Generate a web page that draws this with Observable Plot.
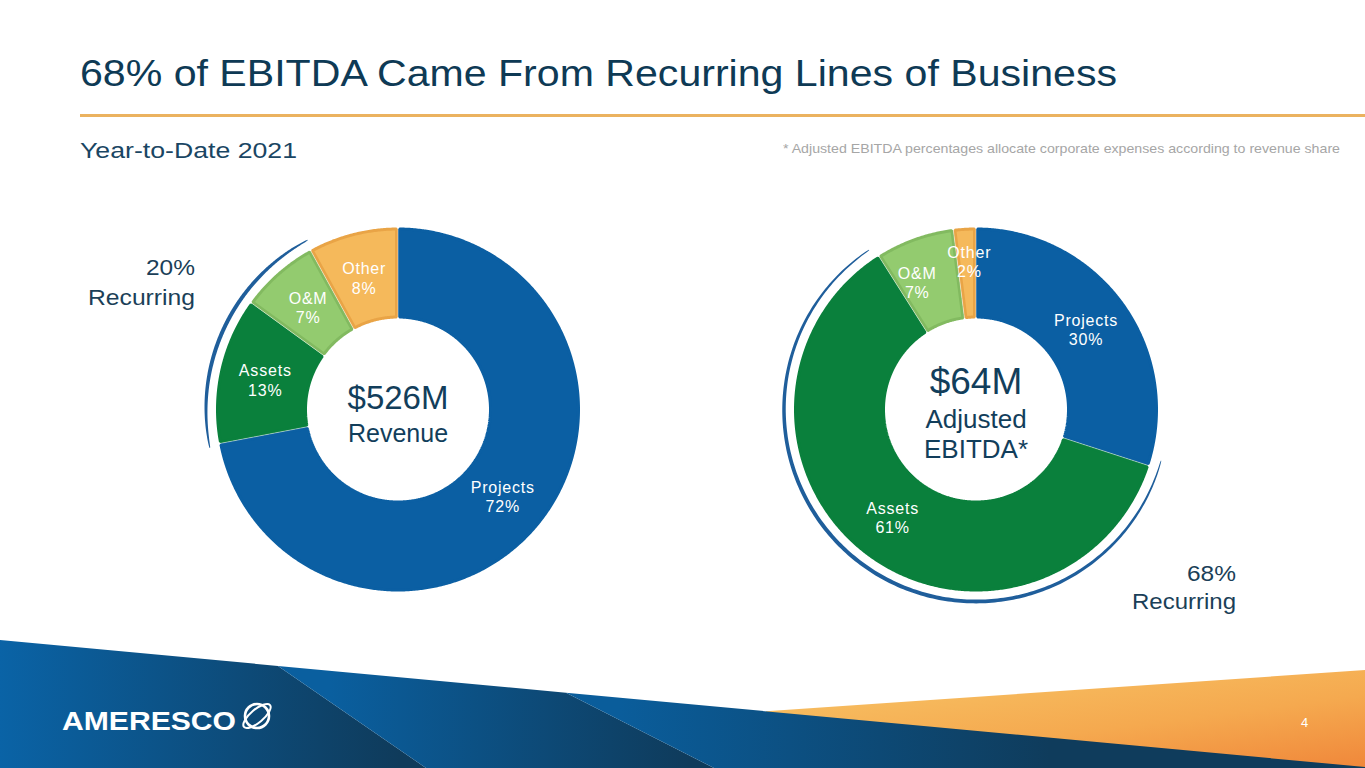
<!DOCTYPE html>
<html>
<head>
<meta charset="utf-8">
<script src="https://cdn.jsdelivr.net/npm/d3@7"></script>
<script src="https://cdn.jsdelivr.net/npm/@observablehq/plot@0.6"></script>
<style>
  html, body { margin: 0; padding: 0; background: #fff; width: 1365px; height: 768px; overflow: hidden; }
  body { font-family: "Liberation Sans", Arial, sans-serif; }
  #page { position: relative; width: 1365px; height: 768px; }
  .abs { position: absolute; white-space: nowrap; line-height: 1; transform-origin: 0 0; }
  .plotwrap { position: absolute; }
</style>
</head>
<body>
<div id="page">
  <svg id="banner" width="1365" height="768" style="position:absolute;left:0;top:0">
    <defs>
      <linearGradient id="og" x1="0.2" y1="0" x2="1" y2="1">
        <stop offset="0" stop-color="#f7c264"/>
        <stop offset="0.55" stop-color="#f5a94f"/>
        <stop offset="1" stop-color="#f0873a"/>
      </linearGradient>
      <linearGradient id="bA" gradientUnits="userSpaceOnUse" x1="0" y1="0" x2="400" y2="0">
        <stop offset="0" stop-color="#0a63a6"/>
        <stop offset="1" stop-color="#0f3b5b"/>
      </linearGradient>
      <linearGradient id="bB" gradientUnits="userSpaceOnUse" x1="330" y1="0" x2="690" y2="0">
        <stop offset="0" stop-color="#0a5f9f"/>
        <stop offset="1" stop-color="#0f3b5b"/>
      </linearGradient>
      <linearGradient id="bC" gradientUnits="userSpaceOnUse" x1="620" y1="0" x2="1050" y2="0">
        <stop offset="0" stop-color="#0a5d9b"/>
        <stop offset="1" stop-color="#0f3c5c"/>
      </linearGradient>
    </defs>
    <polygon points="766,711.3 1365,670 1365,768 766,768" fill="url(#og)"/>
    <polygon points="0,640 278,665.9 426,768 0,768" fill="url(#bA)"/>
    <polygon points="278,665.9 566,692.7 714,768 426,768" fill="url(#bB)"/>
    <polygon points="566,692.7 1365,767 1365,768 714,768" fill="url(#bC)"/>
    <g fill="none" stroke="#fff">
      <circle cx="257" cy="716" r="12" stroke-width="2.6"/>
      <ellipse cx="257" cy="716" rx="17" ry="6.5" stroke-width="2" transform="rotate(-40 257 716)"/>
    </g>
  </svg>
</div>
<script>
// ---------- data ----------
const categories = ["Projects", "Assets", "O&M", "Other"];
const revenueShare = [72, 13, 7, 8];        // % of $526M revenue
const ebitdaShare = [30, 61, 7, 2];         // % of $64M adjusted EBITDA
const revenueCenter = ["$526M", "Revenue"];
const ebitdaCenter = ["$64M", "Adjusted", "EBITDA*"];
const recurringCategories = ["Assets", "O&M"];
const revenueBracket = [0.718, 0.922];      // recurring bracket span, fraction of a turn
const ebitdaBracket = [0.293, 0.906];

// ---------- styles / layout ----------
const sliceFill = {"Projects": "#0b5fa3", "Assets": "#0a803c", "O&M": "#93cb6f", "Other": "#f5b95b"};
const sliceStroke = {"Projects": "#0b5fa3", "Assets": "#0a803c", "O&M": "#82ba60", "Other": "#e9a446"};
const navy = "#123e5b";
const bracketColor = "#1f5e9b";
const FONT = "Liberation Sans, Arial, sans-serif";
// label nudges for thin slices (degrees / px)
const ebitdaLabelNudge = {"O&M": {da: -5, dr: 4}, "Other": {da: 1, dr: 12}};

const page = document.getElementById("page");

// place text by baseline; stretch horizontally to the width it has in the slide
function addText(txt, o) {
  const el = document.createElement("div");
  el.className = "abs";
  el.textContent = txt;
  el.style.fontSize = o.size + "px";
  el.style.color = o.color;
  if (o.weight) el.style.fontWeight = o.weight;
  el.style.top = (o.baseline - 0.8465 * o.size) + "px";
  el.style.left = "0px";
  page.appendChild(el);
  const w = el.getBoundingClientRect().width;
  const W = o.width || w;
  el.style.transform = `scaleX(${W / w})`;
  el.style.left = (o.left != null ? o.left : o.right - W) + "px";
  return el;
}

// ---------- header ----------
addText("68% of EBITDA Came From Recurring Lines of Business", {left: 80, baseline: 86, size: 36, color: "#0e3a55", width: 1037});
const rule = document.createElement("div");
rule.style.cssText = "position:absolute;left:80px;top:113.5px;width:1285px;height:3px;background:#ebb25f;";
page.appendChild(rule);
addText("Year-to-Date 2021", {left: 80, baseline: 159, size: 22, color: "#1a4663", width: 217});
addText("* Adjusted EBITDA percentages allocate corporate expenses according to revenue share", {right: 1340, baseline: 153, size: 13, color: "#a6a6a6", width: 557});

// ---------- donuts ----------
const R = 182, R0 = 91, LABEL_R = 136, BRACKET_R = 192;
const PW = 682, PH = 460, PTOP = 180, CY = 409 - PTOP;

function pt(a, r) { return {x: r * Math.sin(a), y: r * Math.cos(a)}; }

function donut({values, center, centerSizes, centerDy, bracket, left, cx, nudge = {}}) {
  const total = d3.sum(values);
  let acc = 0;
  const slices = categories.map((c, i) => {
    const a0 = acc / total * 2 * Math.PI;
    acc += values[i];
    const a1 = acc / total * 2 * Math.PI;
    const nd = nudge[c] || {da: 0, dr: 0};
    return {category: c, value: values[i], a0, a1,
      la: (a0 + a1) / 2 + nd.da * Math.PI / 180, lr: LABEL_R + nd.dr};
  });

  const marks = [];
  // slices (polygon inset by half the stroke so the border sits inside)
  for (const s of slices) {
    const inset = 1.5;
    const ro = R - inset, ri = R0 + inset;
    const dao = inset / ro, dai = inset / ri;
    const n = Math.max(4, Math.ceil((s.a1 - s.a0) / 0.008));
    const pts = [];
    for (let k = 0; k <= n; k++) pts.push(pt(s.a0 + dao + (s.a1 - s.a0 - 2 * dao) * k / n, ro));
    for (let k = n; k >= 0; k--) pts.push(pt(s.a0 + dai + (s.a1 - s.a0 - 2 * dai) * k / n, ri));
    marks.push(Plot.line(pts, {x: "x", y: "y", curve: "linear-closed",
      fill: sliceFill[s.category], stroke: sliceStroke[s.category], strokeWidth: 3, strokeLinejoin: "miter"}));
  }
  // thin light separators
  marks.push(Plot.link(slices, {
    x1: s => pt(s.a0, R0).x, y1: s => pt(s.a0, R0).y,
    x2: s => pt(s.a0, R).x, y2: s => pt(s.a0, R).y,
    stroke: "white", strokeOpacity: 0.45, strokeWidth: 1
  }));
  // slice labels
  marks.push(Plot.text(slices, {
    x: s => pt(s.la, s.lr).x, y: s => pt(s.la, s.lr).y,
    text: s => `${s.category}\n${s.value}%`,
    fill: "white", fontSize: 16, lineHeight: 1.2, fontFamily: FONT, textAnchor: "middle"
  }));
  // recurring bracket (tapered arc)
  const b0 = bracket[0] * 2 * Math.PI, b1 = bracket[1] * 2 * Math.PI;
  const bp = [], nb = 240;
  const wAt = t => 0.6 + 3.4 * Math.pow(Math.sin(Math.PI * t), 0.5);
  for (let k = 0; k <= nb; k++) { const t = k / nb; bp.push(pt(b0 + (b1 - b0) * t, BRACKET_R + wAt(t) / 2)); }
  for (let k = nb; k >= 0; k--) { const t = k / nb; bp.push(pt(b0 + (b1 - b0) * t, BRACKET_R - wAt(t) / 2)); }
  marks.push(Plot.line(bp, {x: "x", y: "y", curve: "linear-closed", fill: bracketColor, stroke: "none"}));
  // center text
  center.forEach((t, i) => {
    marks.push(Plot.text([t], {x: () => 0, y: () => 0, text: d => d, fontSize: centerSizes[i],
      dy: centerDy[i], lineAnchor: "bottom", textAnchor: "middle", fill: navy, fontFamily: FONT}));
  });

  const svg = Plot.plot({
    width: PW, height: PH, margin: 0,
    x: {domain: [-cx, PW - cx], axis: null},
    y: {domain: [-(PH - CY), CY], axis: null},
    style: {background: "transparent", overflow: "visible", fontFamily: FONT},
    marks
  });
  svg.querySelectorAll('g[fill="white"]').forEach(g => g.style.letterSpacing = "0.8px");
  const wrap = document.createElement("div");
  wrap.className = "plotwrap";
  wrap.style.left = left + "px";
  wrap.style.top = PTOP + "px";
  wrap.appendChild(svg);
  page.appendChild(wrap);
  return slices;
}

donut({values: revenueShare, center: revenueCenter, centerSizes: [33, 25], centerDy: [-1, 32],
  bracket: revenueBracket, left: 0, cx: 397.5});
donut({values: ebitdaShare, center: ebitdaCenter, centerSizes: [37, 26, 26], centerDy: [-16, 18, 48],
  bracket: ebitdaBracket, left: 682, cx: 975.5 - 682, nudge: ebitdaLabelNudge});

// ---------- recurring annotations ----------
const recurringOf = vals => d3.sum(categories.map((c, i) => recurringCategories.includes(c) ? vals[i] : 0));
addText(`${recurringOf(revenueShare)}%`, {right: 195, baseline: 276, size: 22, color: "#1b3f58", width: 49});
addText("Recurring", {right: 195, baseline: 306, size: 22, color: "#1b3f58", width: 107});
addText(`${recurringOf(ebitdaShare)}%`, {right: 1236, baseline: 582, size: 22, color: "#1b3f58", width: 49});
addText("Recurring", {right: 1236, baseline: 610, size: 22, color: "#1b3f58", width: 104});

// ---------- footer ----------
addText("AMERESCO", {left: 62, baseline: 730, size: 26, color: "#ffffff", weight: "bold", width: 174});
addText("4", {left: 1301, baseline: 727, size: 13, color: "#ffffff"});
</script>
</body>
</html>
